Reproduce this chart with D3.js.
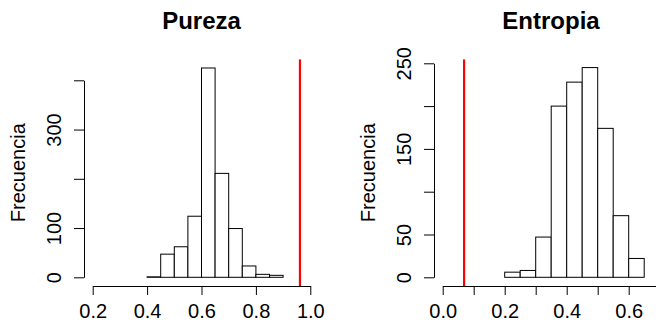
<!DOCTYPE html>
<html><head><meta charset="utf-8">
<script src="https://cdn.jsdelivr.net/npm/d3@7"></script>
<style>
body{margin:0;background:#fff;}
svg{display:block;font-family:"Liberation Sans",Arial,Helvetica,sans-serif;}
</style></head>
<body><svg id="c" width="656" height="324"></svg>
<script>
// ---- data ----
const purezaEdges = [0.40,0.45,0.50,0.55,0.60,0.65,0.70,0.75,0.80,0.85,0.90];
const purezaCounts = [1,47,62,124,425,211,99,23,6,4];
const purezaObs = 0.962;
const purezaXTicks = [0.2,0.4,0.6,0.8,1.0];
const purezaYTicks = [0,100,200,300,400];
const purezaYLabels = [0,100,300];

const entropiaEdges = [0.20,0.25,0.30,0.35,0.40,0.45,0.50,0.55,0.60,0.65];
const entropiaCounts = [6,8,47,200,228,245,174,72,22];
const entropiaObs = 0.069;
const entropiaXTicks = [0.0,0.1,0.2,0.3,0.4,0.5,0.6,0.7];
const entropiaXLabels = [0.0,0.2,0.4,0.6];
const entropiaYTicks = [0,50,100,150,200,250];
const entropiaYLabels = [0,50,150,250];

const svg = d3.select("#c");

function panel(o){
  const g = svg.append("g");
  const x = d3.scaleLinear().domain(o.xDom).range(o.xRange);
  const y = d3.scaleLinear().domain(o.yDom).range(o.yRange);
  const bins = o.counts.map((c,i)=>({x0:o.edges[i], x1:o.edges[i+1], c}));
  g.selectAll("rect.bar").data(bins).join("rect")
    .attr("class","bar")
    .attr("x", d=>x(d.x0)).attr("width", d=>x(d.x1)-x(d.x0))
    .attr("y", d=>y(d.c)).attr("height", d=>y(0)-y(d.c))
    .attr("fill","#fff").attr("stroke","#000").attr("stroke-width",1);
  // red observed line
  g.append("line")
    .attr("x1", x(o.obs)).attr("x2", x(o.obs))
    .attr("y1", o.plotTop).attr("y2", o.axisY)
    .attr("stroke","#ff0000").attr("stroke-width",2.2);
  // x axis
  const xa = g.append("g").attr("transform",`translate(0,${o.axisY})`)
    .call(d3.axisBottom(x).tickValues(o.xTicks).tickSize(9).tickSizeOuter(0)
      .tickFormat(d => (o.xLabels ? o.xLabels.some(v=>Math.abs(v-d)<1e-9) : true) ? d3.format(".1f")(d) : ""));
  xa.select(".domain").attr("stroke","#000");
  xa.selectAll(".tick line").attr("stroke","#000");
  xa.selectAll(".tick text").attr("y",32).attr("dy",0)
    .attr("font-size",20).attr("fill","#000")
    .attr("font-family","Liberation Sans, Arial, sans-serif");
  // y axis
  const ya = g.append("g").attr("transform",`translate(${o.axisX},0)`)
    .call(d3.axisLeft(y).tickValues(o.yTicks).tickSize(10).tickSizeOuter(0)
      .tickFormat(d => o.yLabels.includes(d) ? String(d) : ""));
  ya.select(".domain").attr("stroke","#000");
  ya.selectAll(".tick line").attr("stroke","#000");
  ya.selectAll(".tick text").attr("transform","rotate(-90)")
    .attr("x",0).attr("y",-23).attr("dy",0)
    .attr("text-anchor","middle").attr("font-size",20).attr("fill","#000")
    .attr("font-family","Liberation Sans, Arial, sans-serif");
  // title
  g.append("text").attr("x",o.titleX).attr("y",28.5)
    .attr("text-anchor","middle").attr("font-weight","bold").attr("font-size",24)
    .text(o.title);
  // y label
  g.append("text")
    .attr("transform",`translate(${o.ylabX},${(o.plotTop+o.axisY)/2}) rotate(-90)`)
    .attr("text-anchor","middle").attr("font-size",20)
    .text("Frecuencia");
}

panel({
  edges: purezaEdges, counts: purezaCounts, obs: purezaObs,
  xDom:[0.2,1.0], xRange:[92.7,310.3],
  yDom:[0,400], yRange:[277.3,80.3],
  xTicks: purezaXTicks, xLabels: null,
  yTicks: purezaYTicks, yLabels: purezaYLabels,
  axisY: 286, axisX: 84, plotTop: 59.4,
  title:"Pureza", titleX: 201.5, ylabX: 25
});
panel({
  edges: entropiaEdges, counts: entropiaCounts, obs: entropiaObs,
  xDom:[0,0.7], xRange:[442.7,659.7],
  yDom:[0,250], yRange:[277.3,63.3],
  xTicks: entropiaXTicks, xLabels: entropiaXLabels,
  yTicks: entropiaYTicks, yLabels: entropiaYLabels,
  axisY: 286, axisX: 434, plotTop: 59.4,
  title:"Entropia", titleX: 551, ylabX: 375
});
</script></body></html>
